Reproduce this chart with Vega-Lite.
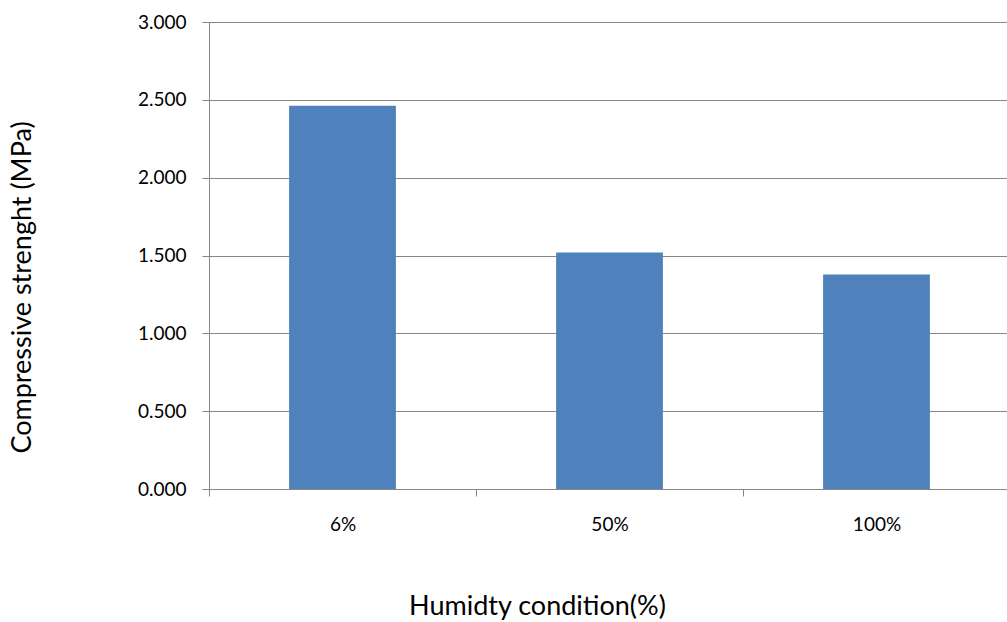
{
  "$schema": "https://vega.github.io/schema/vega-lite/v6.json",
  "autosize": "none",
  "padding": {"left": 209, "top": 22, "right": 0, "bottom": 133},
  "width": 801,
  "height": 467,
  "background": "white",
  "config": {
    "view": {"stroke": null},
    "font": "Lato"
  },
  "data": {
    "values": [
      {"humidity": "6%", "strength": 2.462},
      {"humidity": "50%", "strength": 1.519},
      {"humidity": "100%", "strength": 1.378}
    ]
  },
  "mark": {"type": "bar", "color": "#4F81BD", "width": {"band": 0.4}},
  "encoding": {
    "x": {
      "field": "humidity",
      "type": "ordinal",
      "sort": null,
      "scale": {"paddingInner": 0, "paddingOuter": 0},
      "axis": {
        "title": "Humidty condition(%)",
        "titleFont": "Lato",
        "titleFontSize": 27,
        "titleFontWeight": "normal",
        "titleColor": "#000000",
        "titleX": 328,
        "titleY": 117,
        "titleBaseline": "middle",
        "titleAlign": "center",
        "labelAngle": 0,
        "labelFont": "Lato",
        "labelFontSize": 19,
        "labelColor": "#000000",
        "labelPadding": 19,
        "tickBand": "extent",
        "tickSize": 7,
        "tickColor": "#868686",
        "domainColor": "#868686",
        "grid": false
      }
    },
    "y": {
      "field": "strength",
      "type": "quantitative",
      "scale": {"domain": [0, 3], "nice": false},
      "axis": {
        "title": "Compressive strenght (MPa)",
        "titleFont": "Lato",
        "titleFontSize": 27,
        "titleFontWeight": "normal",
        "titleColor": "#000000",
        "titleX": -187,
        "titleY": 265,
        "titleAngle": -90,
        "titleBaseline": "middle",
        "titleAlign": "center",
        "values": [0, 0.5, 1, 1.5, 2, 2.5, 3],
        "format": ".3f",
        "labelFont": "Lato",
        "labelFontSize": 19,
        "labelColor": "#000000",
        "labelPadding": 16,
        "tickSize": 7,
        "tickColor": "#868686",
        "domainColor": "#868686",
        "grid": true,
        "gridColor": "#868686",
        "gridWidth": 1
      }
    }
  }
}
